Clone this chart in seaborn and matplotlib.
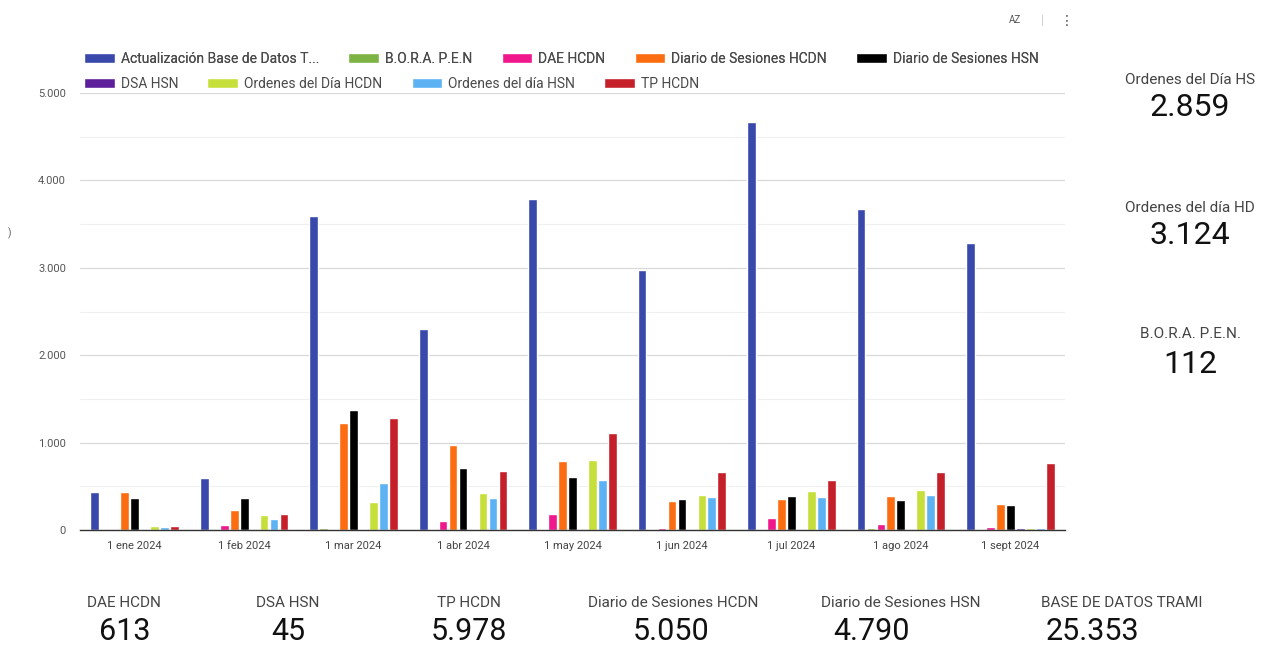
import numpy as np
import pandas as pd
import matplotlib
matplotlib.use("Agg")
import matplotlib.pyplot as plt
import seaborn as sns
from matplotlib.patches import Patch
from matplotlib.ticker import FuncFormatter, MultipleLocator

# Chart data
months = ["1 ene 2024", "1 feb 2024", "1 mar 2024", "1 abr 2024", "1 may 2024",
          "1 jun 2024", "1 jul 2024", "1 ago 2024", "1 sept 2024"]
series_names = ["Actualización Base de Datos T...", "B.O.R.A. P.E.N", "DAE HCDN",
                "Diario de Sesiones HCDN", "Diario de Sesiones HSN", "DSA HSN",
                "Ordenes del Día HCDN", "Ordenes del día HSN", "TP HCDN"]
actualizacion = [430, 590, 3590, 2300, 3790, 2975, 4670, 3675, 3285]
bora = [0, 0, 20, 10, 17, 15, 15, 20, 15]
dae_hcdn = [0, 60, 15, 100, 180, 20, 135, 70, 30]
diario_hcdn = [438, 230, 1220, 975, 790, 336, 352, 393, 301]
diario_hsn = [370, 370, 1370, 713, 603, 355, 393, 340, 290]
dsa_hsn = [10, 0, 10, 0, 0, 0, 0, 0, 25]
ordenes_hcdn = [50, 172, 317, 423, 801, 404, 450, 454, 23]
ordenes_hsn = [30, 122, 541, 366, 576, 378, 374, 404, 19]
tp_hcdn = [46, 183, 1281, 675, 1106, 660, 576, 660, 763]
colors = ["#3949ab", "#7cb342", "#f0168c", "#fb6d10", "#000000",
          "#5e1f9a", "#c7df3a", "#5db2f4", "#c5202a"]

# Scorecards
bottom_labels = ["DAE HCDN", "DSA HSN", "TP HCDN", "Diario de Sesiones HCDN",
                 "Diario de Sesiones HSN", "BASE DE DATOS TRAMI"]
bottom_values = ["613", "45", "5.978", "5.050", "4.790", "25.353"]
right_labels = ["Ordenes del Día HS", "Ordenes del día HD", "B.O.R.A. P.E.N."]
right_values = ["2.859", "3.124", "112"]

all_values = [actualizacion, bora, dae_hcdn, diario_hcdn, diario_hsn,
              dsa_hsn, ordenes_hcdn, ordenes_hsn, tp_hcdn]
rows = []
for name, vals in zip(series_names, all_values):
    for m, v in zip(months, vals):
        rows.append({"Mes": m, "Serie": name, "Valor": v})
df = pd.DataFrame(rows)

sns.set_theme(style="white")
plt.rcParams["font.family"] = ["Roboto", "DejaVu Sans"]

W, H = 1266, 645
fig = plt.figure(figsize=(W / 100, H / 100), dpi=100)
ax = fig.add_axes([80 / W, 1 - 530 / H, 985 / W, 437 / H])

sns.barplot(data=df, x="Mes", y="Valor", hue="Serie", hue_order=series_names,
            order=months, palette=colors, width=0.82, gap=0.12,
            saturation=1, legend=False, ax=ax)

ax.set_ylim(0, 5000)
ax.set_xlim(-0.5, len(months) - 0.5)
ax.yaxis.set_major_locator(MultipleLocator(1000))
ax.yaxis.set_minor_locator(MultipleLocator(500))
ax.yaxis.set_major_formatter(FuncFormatter(lambda v, p: f"{int(v):,}".replace(",", ".")))
ax.grid(axis="y", which="major", color="#d9d9d9", linewidth=0.9)
ax.grid(axis="y", which="minor", color="#f0f0f0", linewidth=0.8)
ax.set_axisbelow(True)
for s in ["top", "right", "left"]:
    ax.spines[s].set_visible(False)
ax.spines["bottom"].set_color("#333333")
ax.spines["bottom"].set_linewidth(1.0)
ax.tick_params(axis="y", which="both", length=0, labelsize=8, labelcolor="#555555", pad=10)
ax.tick_params(axis="x", length=0, labelsize=8, labelcolor="#444444", pad=8)
ax.set_xlabel("")
ax.set_ylabel("")

# Legend in two flowing rows
handles = [Patch(facecolor=c) for c in colors]
leg_kw = dict(loc="upper left", frameon=False, fontsize=10, borderpad=0,
              handlelength=2.2, handleheight=0.8, handletextpad=0.45,
              columnspacing=2.1, labelcolor="#4a4a4a")
leg1 = fig.legend(handles[:5], series_names[:5], ncol=5,
                  bbox_to_anchor=(77 / W, 1 - 45 / H), **leg_kw)
fig.add_artist(leg1)
fig.legend(handles[5:], series_names[5:], ncol=4,
           bbox_to_anchor=(77 / W, 1 - 70 / H), **leg_kw)

# Bottom scorecards
label_x = [124, 288, 469, 673, 901, 1122]
value_x = [125, 288, 469, 671, 872, 1092]
for lab, lx, val, vx in zip(bottom_labels, label_x, bottom_values, value_x):
    fig.text(lx / W, 1 - 603 / H, lab, ha="center", va="center",
             fontsize=11, color="#444444")
    fig.text(vx / W, 1 - 631 / H, val, ha="center", va="center",
             fontsize=22, color="#111111")

# Right scorecards
right_label_y = [80, 208, 334]
right_value_y = [108, 236, 364]
for lab, ly, val, vy in zip(right_labels, right_label_y, right_values, right_value_y):
    fig.text(1190 / W, 1 - ly / H, lab, ha="center", va="center",
             fontsize=11, color="#444444")
    fig.text(1190 / W, 1 - vy / H, val, ha="center", va="center",
             fontsize=23, color="#111111")

# Toolbar bits and clipped axis title
fig.text(1015 / W, 1 - 20 / H, "AZ", ha="center", va="center", fontsize=7, color="#555555")
fig.text(1042 / W, 1 - 20 / H, "|", ha="center", va="center", fontsize=9, color="#cccccc")
fig.text(1067 / W, 1 - 21 / H, "⋮", ha="center", va="center", fontsize=10, color="#555555",
         family=["DejaVu Sans"])
fig.text(10 / W, 1 - 233 / H, ")", ha="center", va="center", fontsize=7, color="#555555")

fig.savefig("out.png", dpi=100, facecolor="white")
